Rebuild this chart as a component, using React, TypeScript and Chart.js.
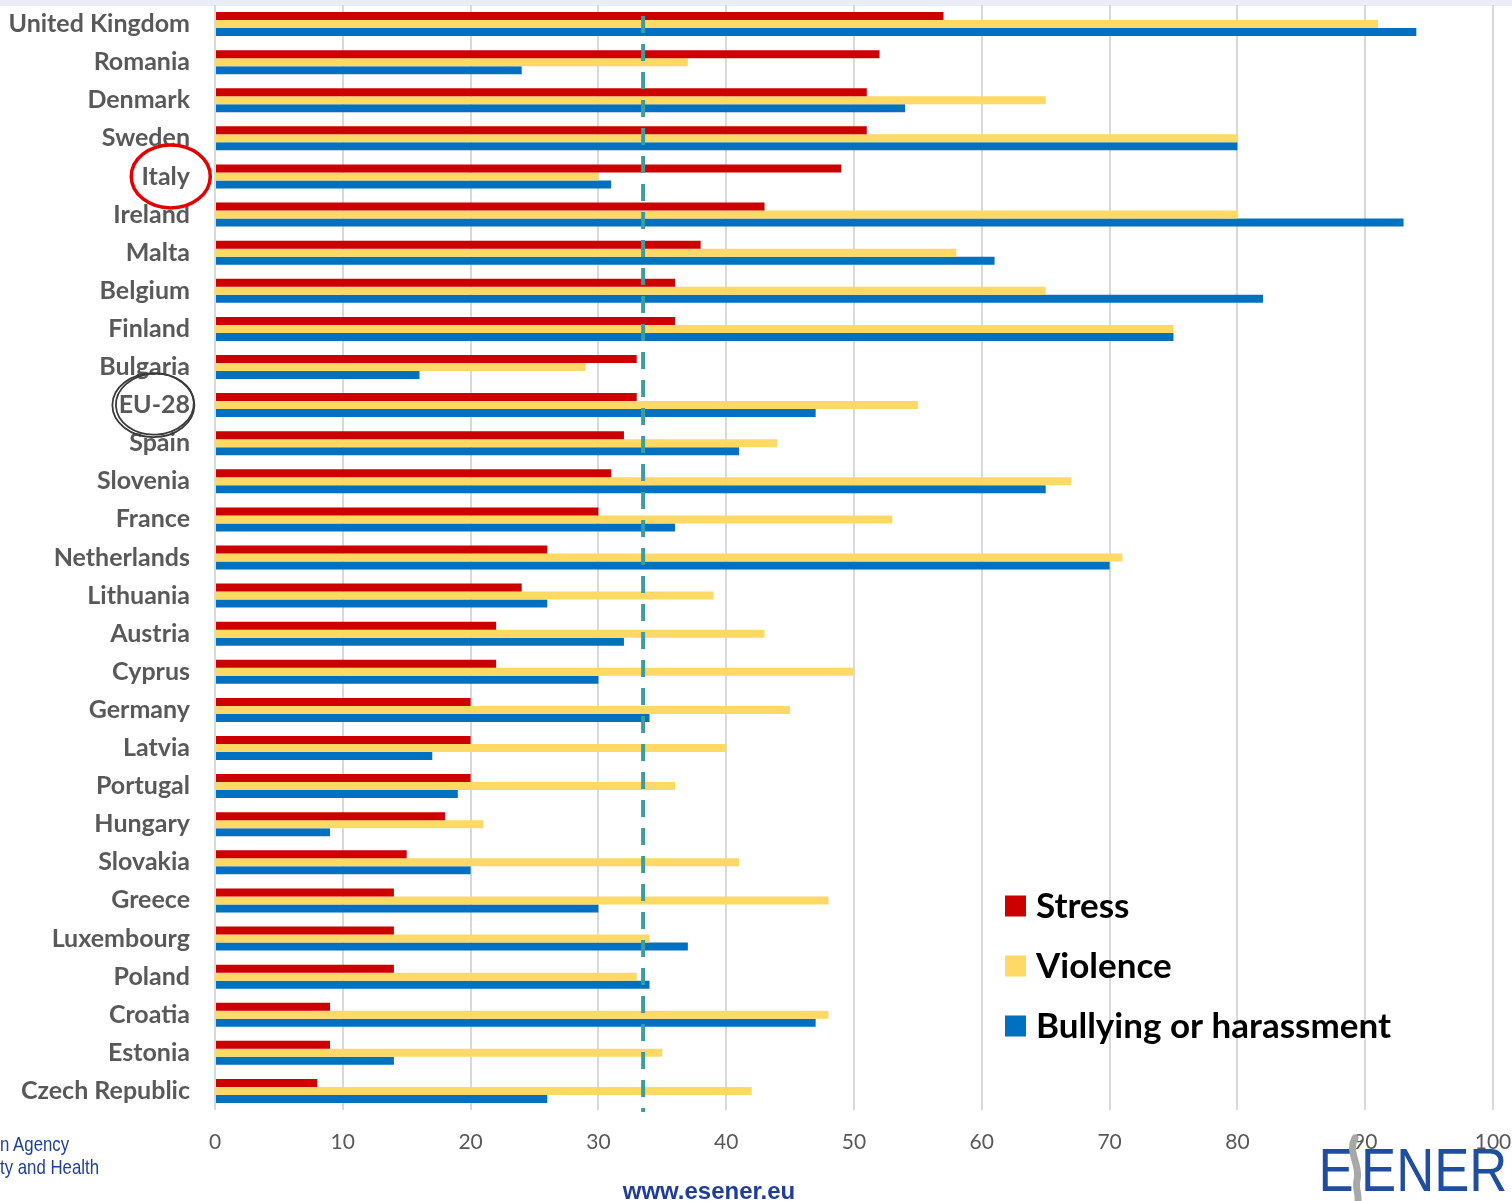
import React, { useEffect, useRef } from "react";
import { Chart, registerables } from "chart.js";

Chart.register(...registerables);

const countries = [
  "United Kingdom", "Romania", "Denmark", "Sweden", "Italy", "Ireland", "Malta",
  "Belgium", "Finland", "Bulgaria", "EU-28", "Spain", "Slovenia", "France",
  "Netherlands", "Lithuania", "Austria", "Cyprus", "Germany", "Latvia", "Portugal",
  "Hungary", "Slovakia", "Greece", "Luxembourg", "Poland", "Croatia", "Estonia",
  "Czech Republic",
];

const stress = [57, 52, 51, 51, 49, 43, 38, 36, 36, 33, 33, 32, 31, 30, 26, 24, 22, 22, 20, 20, 20, 18, 15, 14, 14, 14, 9, 9, 8];
const violence = [91, 37, 65, 80, 30, 80, 58, 65, 75, 29, 55, 44, 67, 53, 71, 39, 43, 50, 45, 40, 36, 21, 41, 48, 34, 33, 48, 35, 42];
const bullying = [94, 24, 54, 80, 31, 93, 61, 82, 75, 16, 47, 41, 65, 36, 70, 26, 32, 30, 34, 17, 19, 9, 20, 30, 37, 34, 47, 14, 26];

const seriesLabels = ["Stress", "Violence", "Bullying or harassment"];
const seriesColors = ["#CC0000", "#FFD966", "#0070C0"];

const xTicks = [0, 10, 20, 30, 40, 50, 60, 70, 80, 90, 100];
const referenceValue = 33.5;

const highlighted = [
  { label: "Italy", color: "#E30000", width: 3.5, sketch: false, dx: 5, rx: 39.5, ry: 31.5 },
  { label: "EU-28", color: "#3A3A3A", width: 1.8, sketch: true, dx: -1, rx: 41, ry: 32 },
];

const FONT = "Lato, 'Open Sans', sans-serif";

// dashed reference line drawn over the bars
const referenceLinePlugin = {
  id: "referenceLine",
  afterDatasetsDraw(chart: any) {
    const { ctx, chartArea, scales } = chart;
    const x = scales.x.getPixelForValue(referenceValue);
    ctx.save();
    ctx.strokeStyle = "#3F9C9C";
    ctx.lineWidth = 4;
    ctx.setLineDash([17, 11]);
    ctx.beginPath();
    ctx.moveTo(x, chartArea.top + 11);
    ctx.lineTo(x, chartArea.bottom + 2);
    ctx.stroke();
    ctx.restore();
  },
};

// legend placed inside the plot, lower right
const innerLegendPlugin = {
  id: "innerLegend",
  afterDraw(chart: any) {
    const { ctx } = chart;
    const x0 = 1005;
    const y0 = 906;
    const step = 60;
    ctx.save();
    chart.data.datasets.forEach((ds: any, i: number) => {
      const cy = y0 + i * step;
      ctx.fillStyle = ds.backgroundColor;
      ctx.fillRect(x0, cy - 10.5, 21, 21);
      ctx.fillStyle = "#000000";
      ctx.font = `bold 35px ${FONT}`;
      ctx.textBaseline = "middle";
      ctx.textAlign = "left";
      ctx.fillText(ds.label, x0 + 31, cy + 1);
    });
    ctx.restore();
  },
};

// hand-drawn style ellipses around selected category labels
const labelCirclePlugin = {
  id: "labelCircles",
  afterDraw(chart: any) {
    const { ctx, scales } = chart;
    ctx.save();
    highlighted.forEach((h) => {
      const idx = countries.indexOf(h.label);
      const cy = scales.y.getPixelForValue(idx);
      ctx.font = `bold 25px ${FONT}`;
      const w = ctx.measureText(h.label).width;
      const right = scales.y.right - 25;
      const cx = right - w / 2 + h.dx;
      ctx.strokeStyle = h.color;
      ctx.lineWidth = h.width;
      ctx.beginPath();
      ctx.ellipse(cx, cy, h.rx, h.ry, 0, 0, Math.PI * 2);
      ctx.stroke();
      if (h.sketch) {
        ctx.beginPath();
        ctx.ellipse(cx + 1.5, cy - 1, h.rx - 2, h.ry - 1.5, -0.05, 0, Math.PI * 2);
        ctx.stroke();
      }
    });
    ctx.restore();
  },
};

export default function App() {
  const canvasRef = useRef<HTMLCanvasElement | null>(null);

  useEffect(() => {
    document.body.style.margin = "0";
    document.body.style.overflow = "hidden";
    const canvas = canvasRef.current;
    if (!canvas) return;
    const chart = new Chart(canvas, {
      type: "bar",
      data: {
        labels: countries,
        datasets: [stress, violence, bullying].map((values, i) => ({
          label: seriesLabels[i],
          data: values,
          backgroundColor: seriesColors[i],
          borderWidth: 0,
          barPercentage: 1,
          categoryPercentage: 0.63,
        })),
      },
      options: {
        indexAxis: "y",
        animation: false,
        responsive: true,
        maintainAspectRatio: false,
        layout: { padding: { top: 5, right: 19, left: 0, bottom: 0 } },
        plugins: {
          legend: { display: false },
          tooltip: { enabled: false },
        },
        scales: {
          x: {
            min: 0,
            max: 100,
            afterBuildTicks(scale: any) {
              scale.ticks = xTicks.map((v) => ({ value: v }));
            },
            afterFit(scale: any) {
              scale.height = 91;
              scale.paddingLeft = 0;
              scale.paddingRight = 0;
            },
            grid: { color: "#D9D9D9", lineWidth: 2, drawTicks: false },
            border: { display: false },
            ticks: {
              padding: 20,
              color: "#595959",
              font: { family: FONT, size: 21 },
            },
          },
          y: {
            afterFit(scale: any) {
              scale.width = 215;
              scale.paddingTop = 0;
              scale.paddingBottom = 0;
            },
            grid: { display: false, drawTicks: false },
            border: { display: false },
            ticks: {
              padding: 25,
              color: "#595959",
              autoSkip: false,
              font: { family: FONT, size: 25, weight: "bold" },
            },
          },
        },
      },
      plugins: [referenceLinePlugin, innerLegendPlugin, labelCirclePlugin],
    });
    return () => chart.destroy();
  }, []);

  const narrow = { display: "inline-block", transform: "scaleX(0.8)", transformOrigin: "left center" } as const;

  return (
    <div style={{ position: "absolute", left: 0, top: 0, width: 1512, height: 1201, background: "#ffffff", overflow: "hidden" }}>
      <div style={{ position: "absolute", left: 0, top: 0, width: 1512, height: 6, background: "#E9EEF6" }} />
      <div style={{ position: "absolute", left: 0, top: 0, width: 1512, height: 1201 }}>
        <canvas ref={canvasRef} />
      </div>
      <div
        style={{
          position: "absolute", left: 0, top: 1132, color: "#1F3F99",
          fontFamily: "'Liberation Sans', Arial, sans-serif",
          fontSize: 21, lineHeight: "23px", whiteSpace: "nowrap",
        }}
      >
        <div><span style={narrow}>n Agency</span></div>
        <div><span style={narrow}>ty and Health</span></div>
      </div>
      <div
        style={{
          position: "absolute", left: 0, width: 1418, top: 1177, textAlign: "center",
          color: "#1F3D99", fontFamily: "'Liberation Sans', Arial, sans-serif",
          fontWeight: "bold", fontSize: 24,
        }}
      >
        www.esener.eu
      </div>
      <svg style={{ position: "absolute", left: 1310, top: 1130 }} width={202} height={71}>
        <g transform="scale(0.85 1)">
          <text x={10} y={61} fill="#1F4E9E" fontFamily="'Liberation Sans', Arial, sans-serif" fontSize={62}>E</text>
        </g>
        <path d="M 45 8 C 37 22, 51 36, 47 50 C 45 58, 49 64, 48 71" stroke="#A8A8A8" strokeWidth={7} fill="none" strokeLinecap="round" />
        <g transform="translate(51 0) scale(0.85 1)">
          <text x={0} y={61} fill="#1F4E9E" fontFamily="'Liberation Sans', Arial, sans-serif" fontSize={62}>ENER</text>
        </g>
      </svg>
    </div>
  );
}
